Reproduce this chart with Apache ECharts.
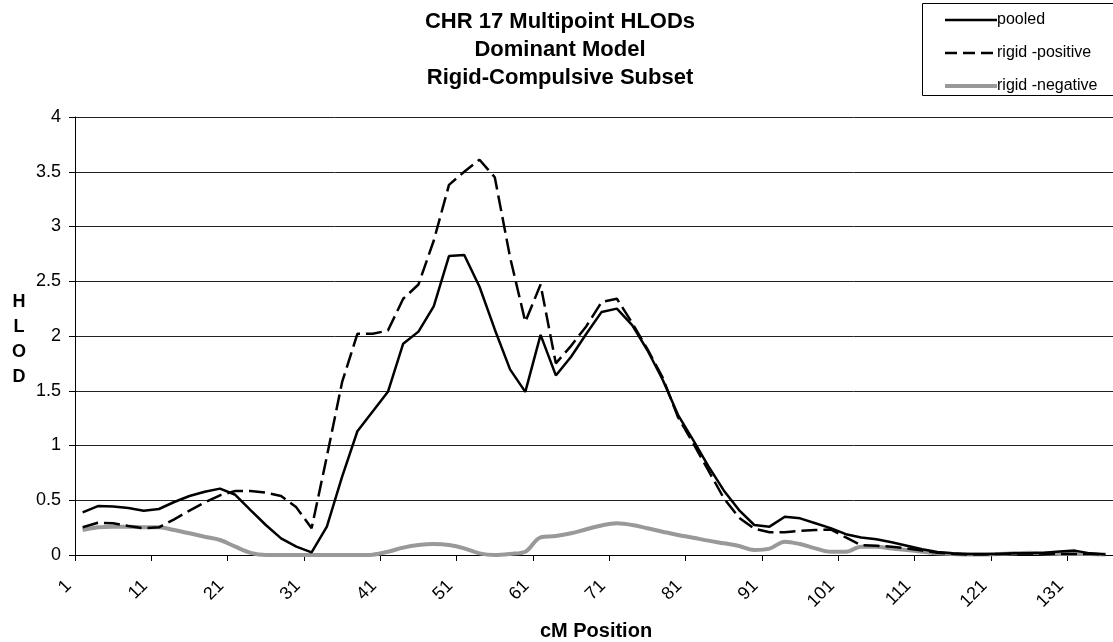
<!DOCTYPE html>
<html>
<head>
<meta charset="utf-8">
<script src="https://cdn.jsdelivr.net/npm/echarts@6/dist/echarts.min.js"></script>
<style>html,body{margin:0;padding:0;background:#fff;}#c{width:1113px;height:642px;}</style>
</head>
<body>
<div id="c"></div>
<script>
const categories = ['1','3','5','7','9','11','13','15','17','19','21','23','25','27','29','31','33','35','37','39','41','43','45','47','49','51','53','55','57','59','61','63','65','67','69','71','73','75','77','79','81','83','85','87','89','91','93','95','97','99','101','103','105','107','109','111','113','115','117','119','121','123','125','127','129','131','133','135'];

const pooled = [0.39,0.447,0.444,0.43,0.405,0.42,0.484,0.539,0.578,0.606,
  0.55,0.41,0.274,0.152,0.076,0.024,0.259,0.715,1.13,1.31,
  1.49,1.93,2.04,2.27,2.73,2.74,2.45,2.06,1.695,1.49,
  2.01,1.64,1.81,2.02,2.22,2.25,2.10,1.87,1.60,1.28,
  1.05,0.81,0.59,0.41,0.274,0.259,0.35,0.335,0.29,0.245,
  0.19,0.16,0.143,0.116,0.085,0.052,0.027,0.015,0.01,0.01,
  0.01,0.015,0.015,0.02,0.033,0.04,0.015,0.005];

const rigidPositive = [0.253,0.295,0.289,0.265,0.244,0.253,0.326,0.405,0.481,0.545,
  0.584,0.584,0.569,0.539,0.435,0.244,0.9,1.58,2.02,2.02,
  2.05,2.34,2.47,2.87,3.38,3.50,3.61,3.45,2.72,2.13,
  2.47,1.75,1.91,2.09,2.31,2.34,2.12,1.88,1.62,1.26,
  1.02,0.77,0.52,0.34,0.24,0.207,0.207,0.22,0.228,0.234,
  0.16,0.09,0.085,0.075,0.06,0.04,0.02,0.01,0.005,0.005,
  0.01,0.012,0.015,0.012,0.01,0.01,0.008,0.005];

const rigidNegative = [0.228,0.253,0.259,0.259,0.253,0.253,0.228,0.198,0.167,0.137,
  0.076,0.02,0,0,0,0,0,0,0,0.003,
  0.03,0.067,0.091,0.1,0.091,0.061,0.015,0,0.01,0.03,
  0.161,0.173,0.198,0.235,0.27,0.289,0.274,0.244,0.213,0.183,
  0.158,0.131,0.107,0.082,0.046,0.058,0.122,0.1,0.061,0.03,
  0.03,0.076,0.076,0.06,0.046,0.03,0.015,0.01,0.005,0.005,
  0.01,0.015,0.02,0.015,0.01,0.01,0.01,0.005];

const yTicks = {min: 0, max: 4, step: 0.5};
const titleLines = ['CHR 17 Multipoint HLODs', 'Dominant Model', 'Rigid-Compulsive Subset'];
const seriesNames = ['pooled', 'rigid -positive', 'rigid -negative'];

const FONT = '"Liberation Sans", Arial, sans-serif';
const chart = echarts.init(document.getElementById('c'), null, {renderer: 'canvas'});

chart.setOption({
  backgroundColor: '#fff',
  animation: false,
  textStyle: {fontFamily: FONT},
  grid: {left: 75, top: 117, width: 1041, height: 438, containLabel: false},
  xAxis: {
    type: 'category',
    data: categories,
    boundaryGap: true,
    axisLine: {lineStyle: {color: '#000', width: 1}},
    axisTick: {show: true, interval: 4, length: 6, inside: false, lineStyle: {color: '#000'}},
    axisLabel: {interval: 4, rotate: 45, margin: 14, padding: [0, 20, 0, 0],
      fontSize: 18, color: '#000', fontFamily: FONT},
    splitLine: {show: false}
  },
  yAxis: {
    type: 'value',
    min: yTicks.min, max: yTicks.max, interval: yTicks.step,
    axisLine: {show: true, lineStyle: {color: '#000', width: 1}},
    axisTick: {show: true, length: 6, lineStyle: {color: '#000'}},
    axisLabel: {margin: 14, fontSize: 18, color: '#000', fontFamily: FONT},
    splitLine: {show: true, lineStyle: {color: '#222', width: 1}}
  },
  legend: {
    orient: 'vertical',
    left: 938, top: 6,
    itemWidth: 52, itemHeight: 14, itemGap: 15,
    itemStyle: {opacity: 0},
    textStyle: {fontSize: 16, color: '#000', fontFamily: FONT, lineHeight: 18, padding: [0, 0, 0, -5]},
    data: [
      {name: seriesNames[0], itemStyle: {opacity: 0}, lineStyle: {color: '#000', width: 2.5, type: 'solid'}},
      {name: seriesNames[1], itemStyle: {opacity: 0}, lineStyle: {color: '#000', width: 2.5, type: [12, 6]}},
      {name: seriesNames[2], itemStyle: {opacity: 0}, lineStyle: {color: '#999', width: 4, type: 'solid'}}
    ]
  },
  graphic: [
    {type: 'rect', shape: {x: 922.5, y: 3.5, width: 200, height: 92}, style: {fill: 'none', stroke: '#000', lineWidth: 1}, z: -1},
    {type: 'text', x: 560, y: 8, style: {text: titleLines.join('\n'), font: 'bold 22px ' + FONT, fill: '#000', align: 'center', verticalAlign: 'top', lineHeight: 28}},
    {type: 'text', x: 596, y: 631, style: {text: 'cM Position', font: 'bold 20px ' + FONT, fill: '#000', align: 'center', verticalAlign: 'middle'}},
    {type: 'text', x: 19, y: 340, style: {text: 'H\nL\nO\nD', font: 'bold 18px ' + FONT, fill: '#000', align: 'center', verticalAlign: 'middle', lineHeight: 25}}
  ],
  series: [
    {name: seriesNames[0], type: 'line', data: pooled, symbol: 'none', z: 3,
      lineStyle: {color: '#000', width: 2.5}, itemStyle: {color: '#000'}},
    {name: seriesNames[1], type: 'line', data: rigidPositive, symbol: 'none', z: 2,
      lineStyle: {color: '#000', width: 2.5, type: [16, 6]}, itemStyle: {color: '#000'}},
    {name: seriesNames[2], type: 'line', data: rigidNegative, symbol: 'none', smooth: 0.35, z: 1,
      lineStyle: {color: '#999', width: 4}, itemStyle: {color: '#999'}}
  ]
});
</script>
</body>
</html>
